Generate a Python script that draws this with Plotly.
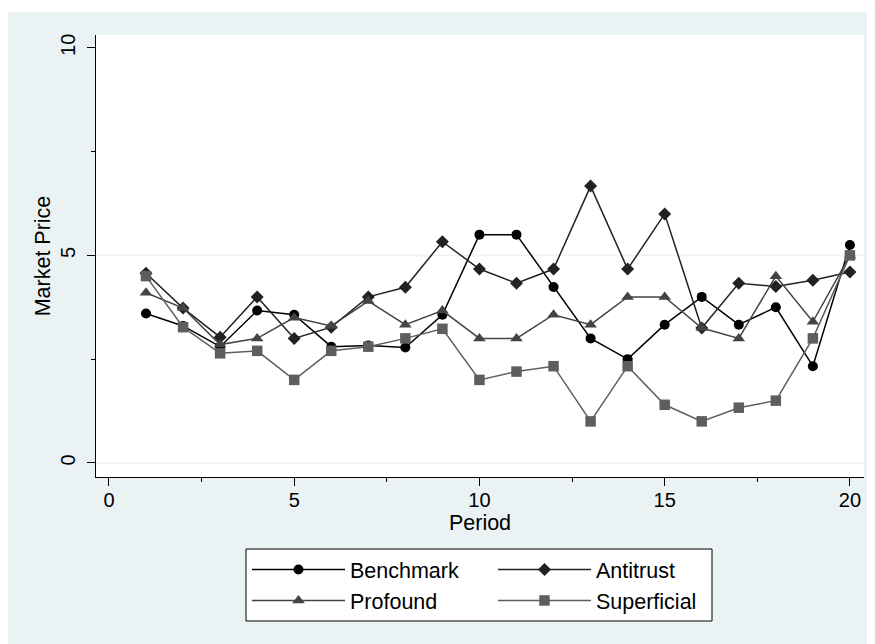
import plotly.graph_objects as go

periods = list(range(1, 21))
benchmark = [3.6, 3.3, 2.8, 3.67, 3.57, 2.8, 2.83, 2.78, 3.57, 5.5,
             5.5, 4.24, 3.0, 2.5, 3.33, 4.0, 3.33, 3.75, 2.33, 5.25]
antitrust = [4.57, 3.73, 3.03, 4.0, 3.0, 3.27, 4.0, 4.23, 5.33, 4.67,
             4.33, 4.67, 6.67, 4.67, 6.0, 3.25, 4.33, 4.25, 4.4, 4.6]
profound = [4.1, 3.73, 2.85, 3.0, 3.5, 3.3, 3.9, 3.33, 3.67, 3.0,
            3.0, 3.57, 3.33, 4.0, 4.0, 3.25, 3.0, 4.5, 3.4, 5.0]
superficial = [4.5, 3.27, 2.64, 2.7, 2.0, 2.7, 2.8, 3.0, 3.23, 2.0,
               2.2, 2.33, 1.0, 2.33, 1.4, 1.0, 1.33, 1.5, 3.0, 5.0]

series_names = ["Benchmark", "Antitrust", "Profound", "Superficial"]
series_values = [benchmark, antitrust, profound, superficial]
colors = ["#000000", "#222222", "#444444", "#5e5e5e"]
symbols = ["circle", "diamond", "triangle-up", "square"]
sizes = [10, 10, 11, 10.5]
groups = ["g1", "g2", "g1", "g2"]

BG = "#EAF2F3"
FONT = "Liberation Sans, Arial, Helvetica, sans-serif"

fig = go.Figure()
for name, vals, c, s, sz, g in zip(series_names, series_values, colors, symbols, sizes, groups):
    fig.add_trace(go.Scatter(
        x=periods, y=vals, name=name, mode="lines+markers", legendgroup=g,
        line=dict(color=c, width=1.5),
        marker=dict(color=c, symbol=s, size=sz, line=dict(width=0)),
    ))

# light horizontal reference lines at labelled values 0 and 5
for yv in [0, 5]:
    fig.add_shape(type="line", xref="paper", yref="y", x0=0, x1=1, y0=yv, y1=yv,
                  line=dict(color=BG, width=1.5), layer="below")

# thin white strip at the very top of the figure
fig.add_shape(type="rect", xref="paper", yref="paper", x0=-0.2, x1=1.1,
              y0=1.052, y1=1.08, fillcolor="white", line=dict(width=0), layer="below")

# legend frame
fig.add_shape(type="rect", xref="paper", yref="paper", x0=0.1953, x1=0.8021,
              y0=-0.3258, y1=-0.1629, fillcolor="white",
              line=dict(color="black", width=1), layer="below")

axis_common = dict(
    showline=True, linecolor="black", linewidth=1,
    ticks="outside", ticklen=8, tickwidth=1, tickcolor="black",
    showgrid=False, zeroline=False, automargin=False,
    tickfont=dict(size=20, color="black", family=FONT),
    tick0=0, dtick=5,
    minor=dict(ticks="outside", ticklen=4, tickwidth=1, tickcolor="black",
               dtick=2.5, tick0=0, showgrid=False),
)

fig.update_layout(
    width=875, height=644, autosize=False,
    margin=dict(l=88, r=19, t=27, b=175),
    paper_bgcolor=BG, plot_bgcolor="white",
    font=dict(family=FONT, color="black", size=21.5),
    xaxis=dict(range=[-0.35, 20.38], ticklabelstandoff=-3,
               title=dict(text="Period", font=dict(size=21.5), standoff=4),
               **axis_common),
    yaxis=dict(range=[-0.34, 10.31], tickangle=-90, ticklabelstandoff=4,
               title=dict(text="Market Price", font=dict(size=21.5), standoff=0),
               **axis_common),
    legend=dict(orientation="h", traceorder="grouped",
                x=0.1966, xanchor="left", y=-0.163, yanchor="top",
                bgcolor="rgba(0,0,0,0)", borderwidth=0,
                itemwidth=93, entrywidth=138, tracegroupgap=0,
                font=dict(size=21.5, family=FONT, color="black")),
    showlegend=True,
)

fig.write_html("out.html")
